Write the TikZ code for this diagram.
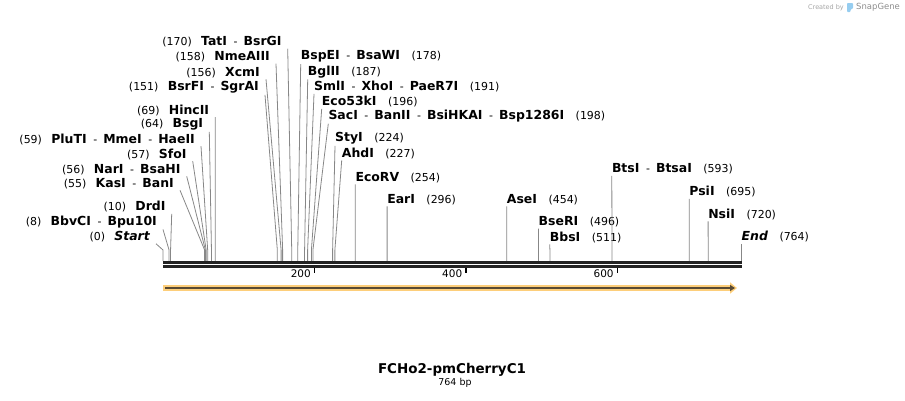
\documentclass[tikz,border=0pt]{standalone}
\usepackage{fontspec}
\setmainfont{DejaVu Sans}
\usepackage{xcolor}
\usetikzlibrary{arrows.meta, positioning, calc}

\definecolor{sitegray}{RGB}{135,135,135}
\definecolor{barblack}{RGB}{34,34,34}
\definecolor{featorange}{RGB}{253,206,122}
\definecolor{featdark}{RGB}{88,74,52}
\definecolor{logogray}{RGB}{165,165,165}
\definecolor{logoblue}{RGB}{150,205,240}

\newcommand{\enz}[1]{{\fontsize{12.5}{14}\selectfont\bfseries #1}}
\newcommand{\dsh}{\hspace{0.6em}-\hspace{0.55em}}
\newcommand{\numgap}{\hspace{1.05em}}
\newcommand{\lgap}{\hspace{0.85em}}

\begin{document}
\begin{tikzpicture}[x=1bp, y=-1bp,
    lbl/.style={inner sep=0pt, font=\fontsize{11}{13}\selectfont},
    lft/.style={lbl, anchor=east},
    rgt/.style={lbl, anchor=west},
    site/.style={draw=sitegray, line width=0.8bp},
    bar/.style={draw=barblack, line width=2.7bp},
    tick/.style={draw=black, line width=1.3bp}
]
\useasboundingbox (0,0) rectangle (905,400);

% cut sites: s = on the bar, b = where the line bends
\foreach \p in {0,8,10,55,56,57,59,64,69,151,156,158,170,178,187,191,196,198,224,227,254,296,454,496,511,593,695,720,764} {
  \coordinate (s\p) at ({163+\p/764*578.5},261);
  \coordinate (b\p) at ({163+\p/764*578.5},250);
}

% labels left of the sites
\node[lft] (tat)   at (281.7,41.7)  {(170)\lgap\enz{TatI}\dsh\enz{BsrGI}};
\node[lft] (nme)   at (270,56.7)    {(158)\lgap\enz{NmeAIII}};
\node[lft] (xcm)   at (260,72.3)    {(156)\lgap\enz{XcmI}};
\node[lft] (bsrf)  at (259,87.3)    {(151)\lgap\enz{BsrFI}\dsh\enz{SgrAI}};
\node[lft] (hinc)  at (209.3,110)   {(69)\lgap\enz{HincII}};
\node[lft] (bsg)   at (203.3,124.3) {(64)\lgap\enz{BsgI}};
\node[lft] (plut)  at (195,139)     {(59)\lgap\enz{PluTI}\dsh\enz{MmeI}\dsh\enz{HaeII}};
\node[lft] (sfo)   at (186.7,154)   {(57)\lgap\enz{SfoI}};
\node[lft] (nar)   at (180.7,169.3) {(56)\lgap\enz{NarI}\dsh\enz{BsaHI}};
\node[lft] (kas)   at (174,183.3)   {(55)\lgap\enz{KasI}\dsh\enz{BanI}};
\node[lft] (drd)   at (165.7,206.7) {(10)\lgap\enz{DrdI}};
\node[lft] (bbv)   at (157,221.7)   {(8)\lgap\enz{BbvCI}\dsh\enz{Bpu10I}};
\node[lft] (start) at (150,236.7)   {(0)\lgap\enz{\itshape Start}};

% labels right of the sites
\node[rgt] (bspe)  at (300.7,56.7)  {\enz{BspEI}\dsh\enz{BsaWI}\numgap(178)};
\node[rgt] (bgl)   at (307.7,71.7)  {\enz{BglII}\numgap(187)};
\node[rgt] (sml)   at (314,86.7)    {\enz{SmlI}\dsh\enz{XhoI}\dsh\enz{PaeR7I}\numgap(191)};
\node[rgt] (ecok)  at (321.7,101.7) {\enz{Eco53kI}\numgap(196)};
\node[rgt] (sac)   at (328.3,116)   {\enz{SacI}\dsh\enz{BanII}\dsh\enz{BsiHKAI}\dsh\enz{Bsp1286I}\numgap(198)};
\node[rgt] (sty)   at (335,138.3)   {\enz{StyI}\numgap(224)};
\node[rgt] (ahd)   at (341.7,153.3) {\enz{AhdI}\numgap(227)};
\node[rgt] (ecorv) at (355.3,177.3) {\enz{EcoRV}\numgap(254)};
\node[rgt] (ear)   at (387.1,199.3) {\enz{EarI}\numgap(296)};
\node[rgt] (ase)   at (506.7,199.3) {\enz{AseI}\numgap(454)};
\node[rgt] (bser)  at (538.5,221.7) {\enz{BseRI}\numgap(496)};
\node[rgt] (bbs)   at (549.7,237.3) {\enz{BbsI}\numgap(511)};
\node[rgt] (bts)   at (611.8,169)   {\enz{BtsI}\dsh\enz{BtsaI}\numgap(593)};
\node[rgt] (psi)   at (689.2,191.7) {\enz{PsiI}\numgap(695)};
\node[rgt] (nsi)   at (708.1,214.3) {\enz{NsiI}\numgap(720)};
\node[rgt] (end)   at (741.5,236.7) {\enz{\itshape End}\numgap(764)};

\foreach \nm/\p in {tat/170, nme/158, xcm/156, bsrf/151, hinc/69, bsg/64, plut/59, sfo/57, nar/56, kas/55, drd/10, bbv/8, start/0}
  \draw[site] ([xshift=6bp, yshift=-1.5bp]\nm.south east) -- (b\p) -- (s\p);
\foreach \nm/\p in {bspe/178, bgl/187, sml/191, ecok/196, sac/198, sty/224, ahd/227, ecorv/254, ear/296, ase/454, bser/496, bbs/511, bts/593, psi/695, nsi/720, end/764}
  \draw[site] ([yshift=-1.5bp]\nm.south west) -- (b\p) -- (s\p);

% sequence bar
\coordinate (barL) at (163,262.3);
\coordinate (barR) at (742,262.3);
\draw[bar] (barL) -- (barR);
\draw[bar] ([yshift=-4bp]barL) -- ([yshift=-4bp]barR);

\foreach \t in {200,400,600} {
  \coordinate (t\t) at ({163+\t/764*578.5},267.7);
  \draw[tick] (t\t) -- ++(0,5.3);
  \node[anchor=east, inner sep=0pt, font=\fontsize{10.5}{12}\selectfont] (tl\t) at ([xshift=-3.5bp, yshift=-6.3bp]t\t) {\t};
}

% feature
\coordinate (fL) at (163,288);
\coordinate (fR) at (737,288);
\draw[featorange, line width=6bp, -{Triangle[length=7bp, width=11bp]}] (fL) -- (fR);
\draw[featdark, line width=2bp, -{Triangle[length=5bp, width=6bp]}] ([xshift=2bp]fL) -- ([xshift=-2bp]fR);

\node[inner sep=0pt, font=\fontsize{13.5}{16}\selectfont\bfseries] (title) at (452,370) {FCHo2-pmCherryC1};
\node[inner sep=0pt, font=\fontsize{9.5}{11}\selectfont] (len) at (455,383) {764 bp};

% logo
\node[anchor=west, inner sep=0pt, text=logogray, font=\fontsize{6.5}{8}\selectfont] (created) at (808,7.5) {Created by};
\fill[logoblue, rounded corners=0.8bp] (847,3) -- (853,3) -- (853,8.5) -- (850.5,9.5) -- (850.5,12) -- (847,12) -- cycle;
\node[anchor=west, inner sep=0pt, text=logogray!85!black, font=\fontsize{8.5}{10}\selectfont] (snapgene) at (856,7.5) {SnapGene};
\end{tikzpicture}
\end{document}
